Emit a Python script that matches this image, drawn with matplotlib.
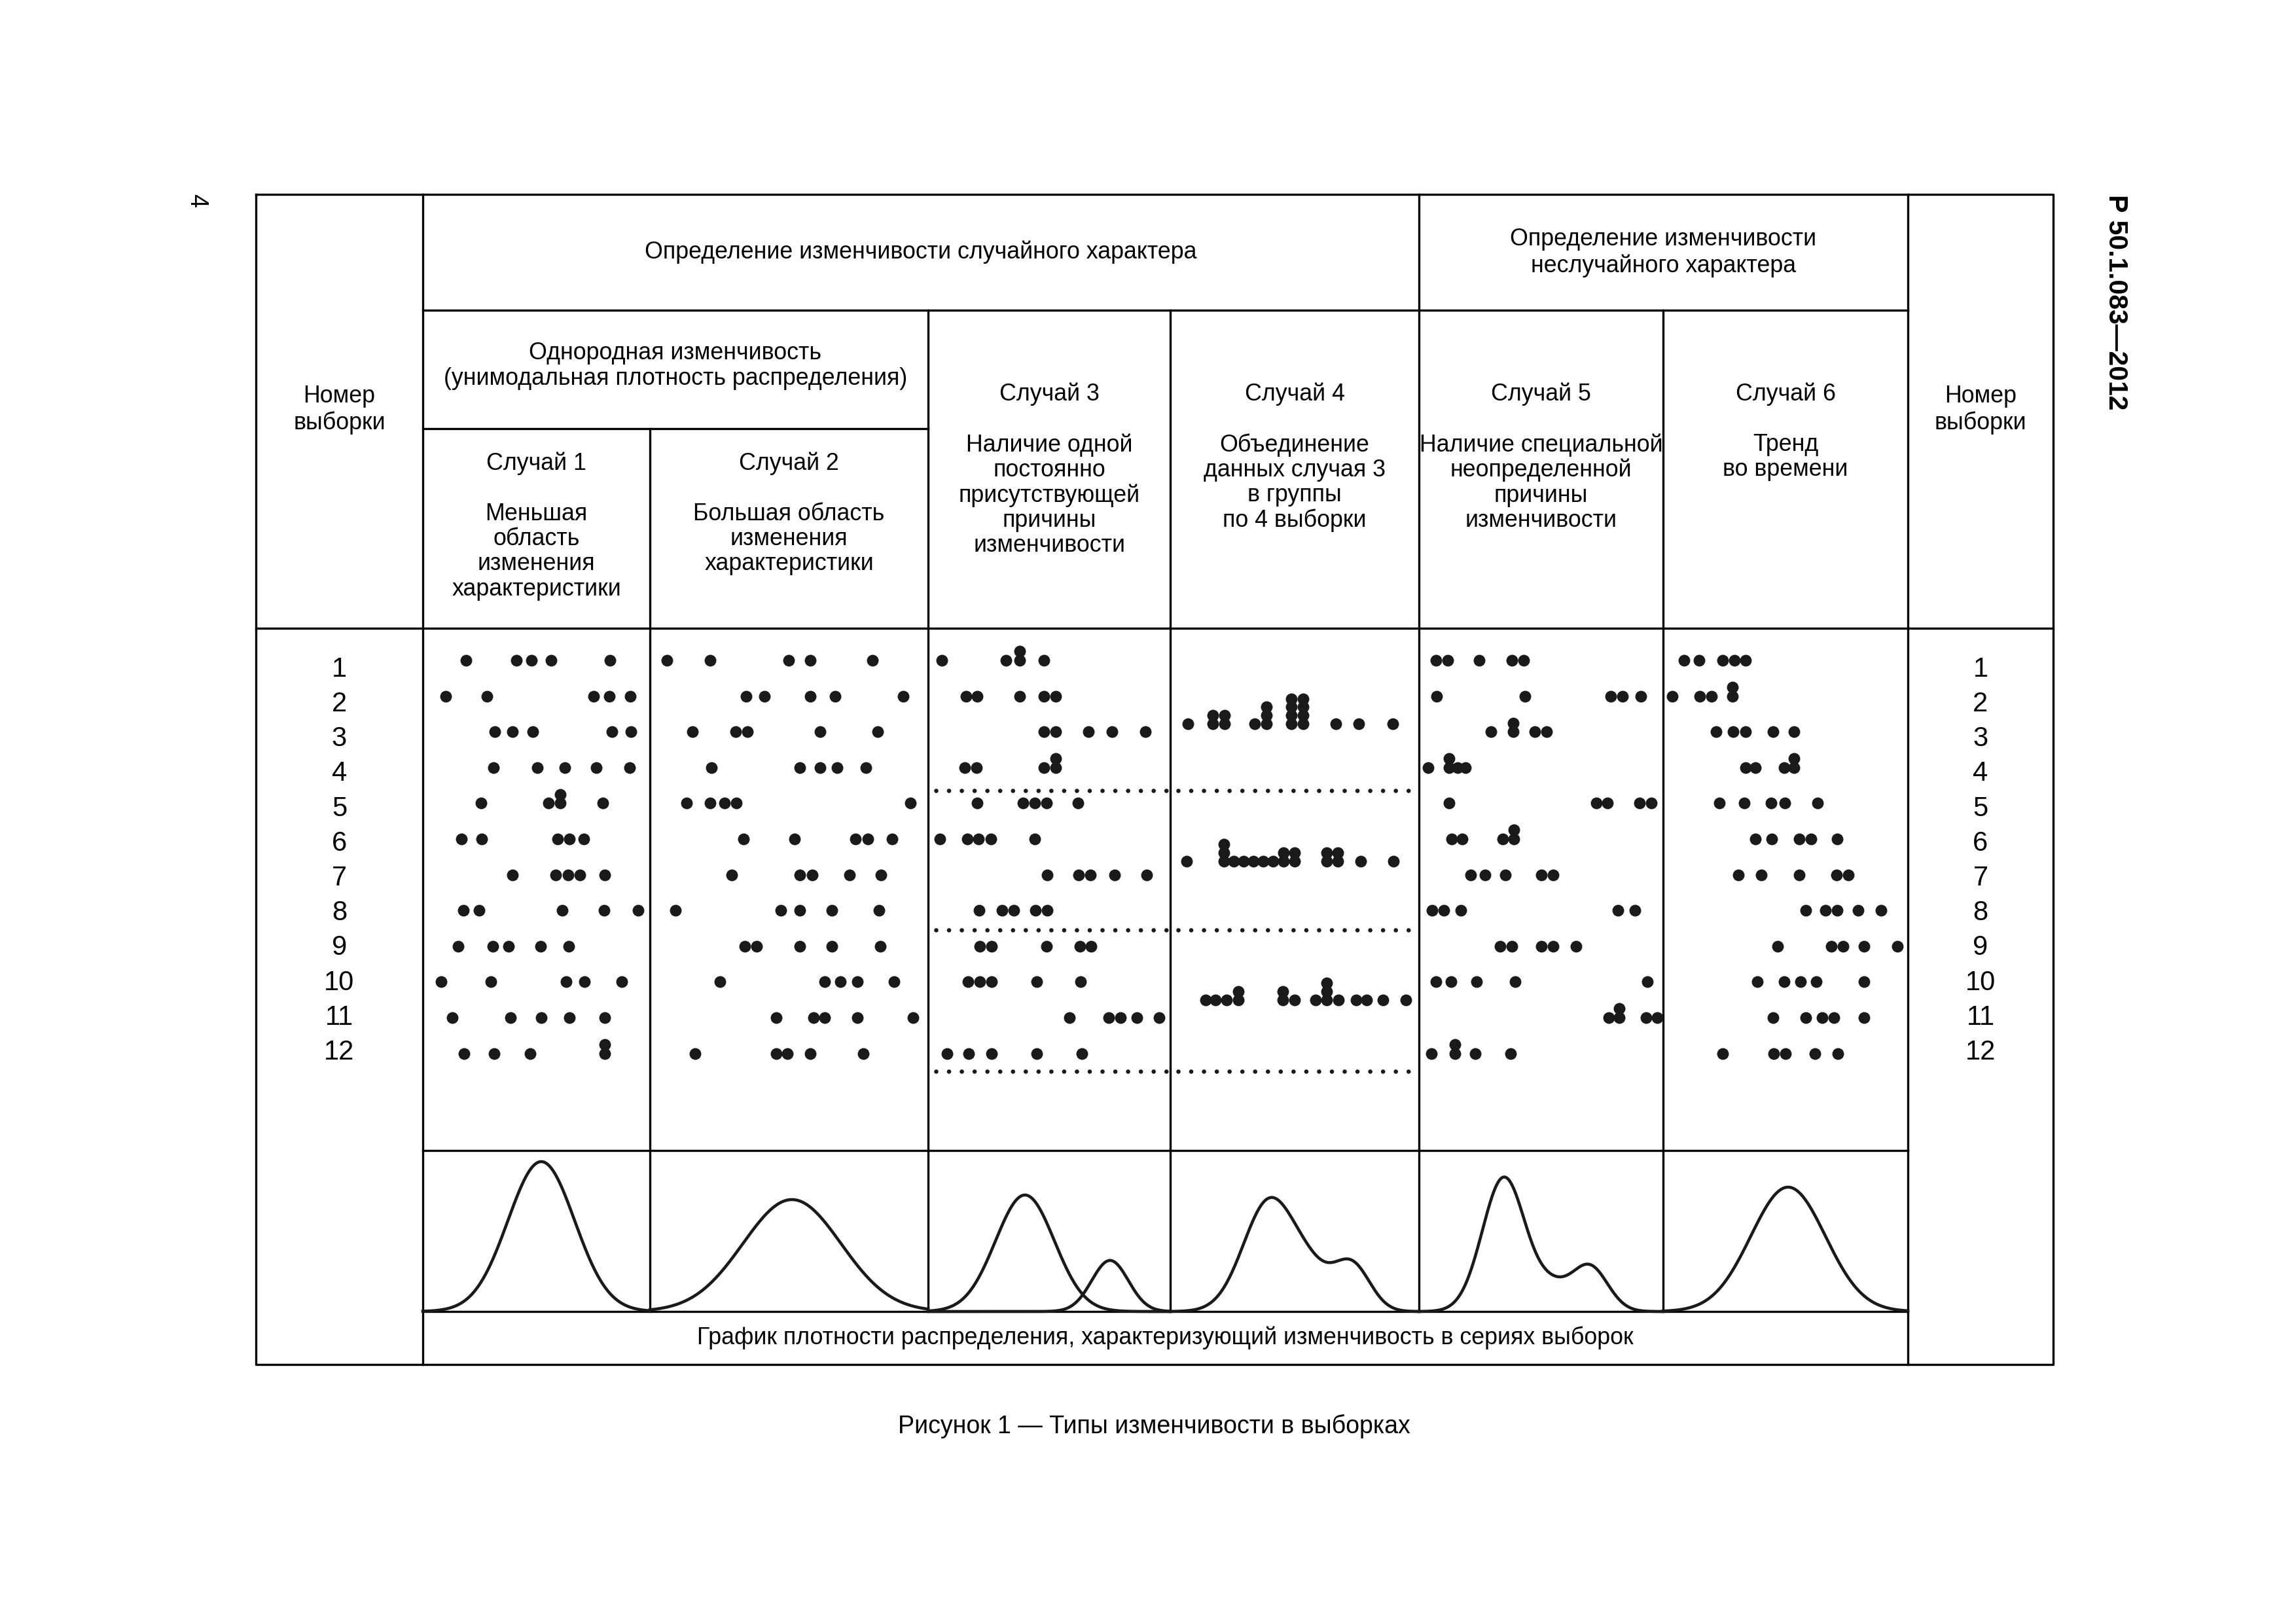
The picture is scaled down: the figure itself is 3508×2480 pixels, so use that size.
import numpy as np
import matplotlib
matplotlib.use("Agg")
import matplotlib.pyplot as plt

plt.rcParams['font.family'] = ['Liberation Sans', 'DejaVu Sans']

W, H = 3508, 2480

# sample numbers (rows)
sample_numbers = list(range(1, 13))

# measured values in every sample, one list per row (units from the cell's left edge)
# a repeated value is drawn stacked on the previous dot
case1 = [[66, 143, 166, 196, 286], [35, 98, 261, 285, 317], [110, 137, 168, 289, 318],
         [108, 175, 217, 265, 316], [89, 192, 210, 210, 275], [59, 90, 206, 224, 246],
         [137, 203, 222, 240, 278], [62, 86, 213, 277, 329], [54, 107, 131, 180, 223],
         [28, 104, 219, 247, 304], [45, 134, 181, 224, 278], [63, 109, 164, 278, 278]]
case2 = [[26, 92, 212, 245, 340], [147, 175, 245, 283, 387], [65, 131, 149, 260, 348],
         [94, 229, 260, 286, 330], [56, 92, 114, 132, 398], [143, 221, 314, 333, 370],
         [125, 229, 248, 305, 353], [39, 200, 229, 278, 350], [145, 163, 229, 278, 352],
         [107, 267, 291, 317, 373], [193, 250, 267, 317, 402], [69, 193, 210, 245, 326]]
case3 = [[21, 119, 140, 140, 177], [58, 75, 140, 177, 195], [177, 195, 245, 281, 332],
         [56, 74, 177, 195, 195], [75, 145, 163, 181, 229], [18, 60, 77, 96, 163],
         [182, 230, 248, 285, 334], [78, 113, 131, 164, 182], [79, 97, 181, 232, 249],
         [61, 79, 97, 166, 233], [216, 276, 294, 319, 353], [29, 62, 97, 166, 235]]
# case 4: case 3 data pooled in groups of 4 samples
case4 = [[27, 65, 65, 83, 83, 129, 147, 147, 147, 185, 185, 185, 185, 203, 203, 203, 203, 253, 288, 340],
         [25, 82, 82, 82, 97, 112, 127, 142, 157, 173, 173, 190, 190, 239, 239, 256, 256, 291, 341],
         [54, 69, 86, 104, 104, 172, 172, 190, 222, 239, 239, 239, 257, 284, 300, 325, 360]]
case4_rows = [2.78, 6.62, 10.5]
case5 = [[26, 44, 92, 142, 160], [27, 162, 293, 311, 339], [110, 144, 144, 177, 195],
         [14, 46, 46, 59, 71], [46, 271, 288, 337, 355], [50, 66, 128, 145, 145],
         [79, 101, 132, 187, 205], [20, 38, 64, 304, 330], [124, 142, 187, 205, 240],
         [26, 49, 88, 147, 349], [290, 306, 306, 347, 364], [19, 55, 55, 86, 140]]
case6 = [[32, 55, 91, 109, 126], [14, 56, 74, 106, 106], [81, 107, 126, 168, 200],
         [126, 141, 185, 200, 200], [86, 124, 165, 186, 236], [141, 166, 208, 226, 266],
         [115, 150, 208, 265, 283], [218, 248, 266, 298, 333], [175, 257, 275, 307, 358],
         [144, 185, 210, 234, 307], [168, 218, 243, 261, 307], [91, 169, 187, 232, 267]]
group_separators = [4.65, 8.55, 12.5]

# density curves: humps as (centre, spread, height)
dens = [
    [[(181, 51, 229)]],
    [[(217, 75, 171)]],
    [[(148, 45, 178)], [(278, 28, 78)]],
    [[(152, 40, 170), (217, 30, 40), (277, 28, 72)]],
    [[(130, 33, 205), (202, 25, 30), (260, 28, 70)]],
    [[(191, 57, 190)]],
]

case_titles = ["Случай 1\n\nМеньшая\nобласть\nизменения\nхарактеристики",
               "Случай 2\n\nБольшая область\nизменения\nхарактеристики",
               "Случай 3\n\nНаличие одной\nпостоянно\nприсутствующей\nпричины\nизменчивости",
               "Случай 4\n\nОбъединение\nданных случая 3\nв группы\nпо 4 выборки",
               "Случай 5\n\nНаличие специальной\nнеопределенной\nпричины\nизменчивости",
               "Случай 6\n\nТренд\nво времени"]

# table layout (pixels)
col_x = [646, 993, 1418, 1788, 2168, 2541, 2915]
x_left, x_right = 391, 3137
y_top, y_h1, y_h2, y_dots, y_curv, y_base, y_bot = 297, 474, 655, 960, 1758, 2004, 2085
row_lim = (14.72, 0.103)

fig = plt.figure(figsize=(W / 300, H / 300), dpi=300)
bg = fig.add_axes([0, 0, 1, 1])
bg.set_xlim(0, W)
bg.set_ylim(H, 0)
bg.axis("off")


def px_axes(x0, y0, x1, y1):
    ax = fig.add_axes([x0 / W, 1 - y1 / H, (x1 - x0) / W, (y1 - y0) / H])
    ax.axis("off")
    return ax


lw = 0.8
k = dict(color="black", lw=lw, solid_capstyle="projecting")
bg.plot([x_left, x_right, x_right, x_left, x_left], [y_top, y_top, y_bot, y_bot, y_top], **k)
for x in [col_x[0], col_x[-1]]:
    bg.plot([x, x], [y_top, y_bot], **k)
bg.plot([col_x[4], col_x[4]], [y_top, y_base], **k)
for x in [col_x[2], col_x[3], col_x[5]]:
    bg.plot([x, x], [y_h1, y_base], **k)
bg.plot([col_x[1], col_x[1]], [y_h2, y_base], **k)
bg.plot([col_x[0], col_x[-1]], [y_h1, y_h1], **k)
bg.plot([col_x[0], col_x[2]], [y_h2, y_h2], **k)
bg.plot([x_left, x_right], [y_dots, y_dots], **k)
bg.plot([col_x[0], col_x[-1]], [y_curv, y_curv], **k)
bg.plot([col_x[0], col_x[-1]], [y_base, y_base], **k)

fs = 8.6
bg.text((x_left + col_x[0]) / 2, 626, "Номер\nвыборки", ha="center", va="center", fontsize=fs)
bg.text((col_x[-1] + x_right) / 2, 626, "Номер\nвыборки", ha="center", va="center", fontsize=fs)
bg.text((col_x[0] + col_x[4]) / 2, 385, "Определение изменчивости случайного характера",
        ha="center", va="center", fontsize=fs)
bg.text((col_x[4] + col_x[-1]) / 2, 386, "Определение изменчивости\nнеслучайного характера",
        ha="center", va="center", fontsize=fs)
bg.text((col_x[0] + col_x[2]) / 2, 559,
        "Однородная изменчивость\n(унимодальная плотность распределения)",
        ha="center", va="center", fontsize=fs, linespacing=1.12)
for i, t in enumerate(case_titles):
    bg.text((col_x[i] + col_x[i + 1]) / 2, 691 if i < 2 else 585, t,
            ha="center", va="top", fontsize=fs, linespacing=1.12)
bg.text((col_x[0] + col_x[-1]) / 2, (y_base + y_bot) / 2,
        "График плотности распределения, характеризующий изменчивость в сериях выборок",
        ha="center", va="center", fontsize=fs)
bg.text(1763, 2179, "Рисунок 1 — Типы изменчивости в выборках", ha="center", va="center",
        fontsize=9.0)
bg.text(3233, 462, "Р 50.1.083—2012", ha="center", va="center", rotation=-90,
        fontsize=9.8, fontweight="bold")
bg.text(300, 306, "4", ha="center", va="center", rotation=-90, fontsize=9)

# sample numbers in the side columns
for x0, x1 in [(x_left, col_x[0]), (col_x[-1], x_right)]:
    ax = px_axes(x0, y_dots, x1, y_curv)
    ax.set_xlim(0, 1)
    ax.set_ylim(*row_lim)
    for n in sample_numbers:
        ax.text(0.5, 1.25 + (n - 1) * 0.975, str(n), ha="center", va="center", fontsize=10)

dot = dict(s=18.5, color="#1a1a1a", linewidths=0, zorder=3)
step = 0.25


def draw_row(ax, values, row, step):
    xs, ys = [], []
    seen = {}
    for v in values:
        c = seen.get(v, 0)
        seen[v] = c + 1
        xs.append(v)
        ys.append(row - c * step)
    ax.scatter(xs, ys, **dot)


cases = [case1, case2, case3, None, case5, case6]
for i in range(6):
    ax = px_axes(col_x[i], y_dots, col_x[i + 1], y_curv)
    ax.set_xlim(0, col_x[i + 1] - col_x[i])
    ax.set_ylim(*row_lim)
    if i == 3:
        for vals, r in zip(case4, case4_rows):
            draw_row(ax, vals, r, 0.235)
    else:
        for n, vals in zip(sample_numbers, cases[i]):
            draw_row(ax, vals, n, step)
    if i in (2, 3):
        for r in group_separators:
            ax.plot([12, 365], [r, r], color="#1a1a1a", lw=1.6,
                    linestyle=(0, (0.001, 2.93)), dash_capstyle="round")

    cax = px_axes(col_x[i], y_curv, col_x[i + 1], y_base)
    w = col_x[i + 1] - col_x[i]
    cax.set_xlim(0, w)
    cax.set_ylim(0, y_base - y_curv)
    xs = np.linspace(0, w, 600)
    for humps in dens[i]:
        ys = sum(h * np.exp(-0.5 * ((xs - m) / s) ** 2) for m, s, h in humps)
        cax.plot(xs, ys, color="#1a1a1a", lw=1.1, clip_on=False)

fig.savefig("out.png", dpi=300)
